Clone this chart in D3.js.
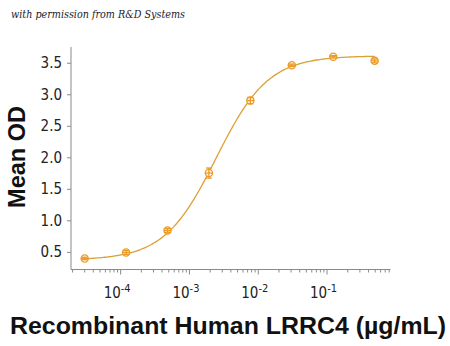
<!DOCTYPE html>
<html><head><meta charset="utf-8">
<script src="https://cdn.jsdelivr.net/npm/d3@7"></script>
<style>
html,body{margin:0;padding:0;background:#fff;}
svg{display:block;}
</style></head>
<body>
<script>
// ---- data ----
const concentrations = [3.05e-5, 1.22e-4, 4.88e-4, 1.95e-3, 7.81e-3, 0.03125, 0.125, 0.5];
const meanOD = [0.395, 0.49, 0.84, 1.75, 2.90, 3.46, 3.595, 3.53];
const errOD = [0.02, 0.03, 0.03, 0.08, 0.05, 0.02, 0.02, 0.03];
// 4PL fit parameters: bottom, top, EC50, hill slope
const fitParams = [0.37, 3.61, 2.49e-3, 1.15];
const yTicks = [0.5, 1.0, 1.5, 2.0, 2.5, 3.0, 3.5];
const xMajorTicks = [1e-4, 1e-3, 1e-2, 1e-1];
const xMajorExp = ["-4", "-3", "-2", "-1"];

const W = 450, H = 346;
const svg = d3.select("body").append("svg").attr("width", W).attr("height", H);

const x = d3.scaleLog().domain([1.93e-5, 0.85]).range([71, 390.5]);
const y = d3.scaleLinear().domain([0.22, 3.75]).range([269.5, 47]);

const axisColor = "#8a8a8a";
const tickFont = "'Liberation Sans Narrow','DejaVu Sans Condensed','Liberation Sans',sans-serif";

// top note
svg.append("text").attr("x", 11).attr("y", 18)
  .attr("font-family", "'DejaVu Serif','Liberation Serif',serif")
  .attr("font-style", "italic").attr("font-size", 10.5)
  .attr("fill", "#1a1a2e")
  .attr("textLength", 174).attr("lengthAdjust", "spacingAndGlyphs")
  .text("with permission from R&D Systems");

// Y axis
const yAxis = d3.axisLeft(y).tickValues(yTicks).tickFormat(d3.format(".1f")).tickSize(4).tickPadding(5);
const gy = svg.append("g").attr("transform", "translate(71,0)").call(yAxis);
gy.select(".domain").attr("stroke", axisColor).attr("d", `M0,${y.range()[0]}V${y.range()[1]}`);
gy.selectAll(".tick line").attr("stroke", axisColor);
gy.selectAll(".tick text").attr("font-family", tickFont).attr("font-size", 15).attr("fill", "#222");

// X axis (minor ticks)
const minorTicks = [];
for (let e = -5; e <= 0; e++) for (let m = 1; m <= 9; m++) {
  const v = m * Math.pow(10, e);
  if (v >= x.domain()[0] && v <= x.domain()[1]) minorTicks.push(v);
}
const xAxis = d3.axisBottom(x).tickValues(minorTicks).tickFormat("").tickSize(3);
const gx = svg.append("g").attr("transform", "translate(0,269.5)").call(xAxis);
gx.select(".domain").attr("stroke", axisColor).attr("d", `M${x.range()[0]},0H${x.range()[1]}`);
gx.selectAll(".tick line").attr("stroke", axisColor)
  .attr("y2", d => xMajorTicks.some(t => Math.abs(Math.log10(t) - Math.log10(d)) < 1e-6) ? 5 : 3);

// x tick labels 10^n
const lab = svg.append("g");
xMajorTicks.forEach((t, i) => {
  const tx = lab.append("text").attr("x", x(t) - 3).attr("y", 298)
    .attr("text-anchor", "middle").attr("font-family", tickFont).attr("font-size", 15).attr("fill", "#222");
  tx.append("tspan").text("10");
  tx.append("tspan").attr("dy", -6).attr("font-size", 11).text(xMajorExp[i]);
});

// Axis titles
svg.append("text").attr("transform", "translate(25,157) rotate(-90)")
  .attr("text-anchor", "middle").attr("font-family", "'Liberation Sans',Arial,sans-serif")
  .attr("font-weight", "bold").attr("font-size", 23.5).attr("fill", "#111").text("Mean OD");
svg.append("text").attr("x", 228).attr("y", 334)
  .attr("text-anchor", "middle").attr("font-family", "'Liberation Sans',Arial,sans-serif")
  .attr("font-weight", "bold").attr("font-size", 23.5).attr("fill", "#111")
  .attr("textLength", 436).attr("lengthAdjust", "spacingAndGlyphs")
  .text("Recombinant Human LRRC4 (\u00b5g/mL)");

// fitted curve
const [A, D, C, B] = fitParams;
const f = v => D + (A - D) / (1 + Math.pow(v / C, B));
const lx0 = Math.log10(concentrations[0]), lx1 = Math.log10(concentrations[concentrations.length - 1]);
const curvePts = d3.range(0, 201).map(i => {
  const v = Math.pow(10, lx0 + (lx1 - lx0) * i / 200);
  return [x(v), y(f(v))];
});
svg.append("path").attr("d", d3.line()(curvePts)).attr("fill", "none")
  .attr("stroke", "#DCA035").attr("stroke-width", 1.3);

// points with error bars
const col = "#EC9A26";
const pts = svg.append("g");
concentrations.forEach((c, i) => {
  const px = x(c), py = y(meanOD[i]);
  const g = pts.append("g").attr("stroke", col).attr("stroke-width", 1.3).attr("fill", "none");
  g.append("circle").attr("cx", px).attr("cy", py).attr("r", 3.6).attr("fill", "rgba(255,255,255,0.85)");
  g.append("line").attr("x1", px).attr("x2", px).attr("y1", y(meanOD[i] + errOD[i])).attr("y2", y(meanOD[i] - errOD[i]));
  g.append("line").attr("x1", px - 3).attr("x2", px + 3).attr("y1", y(meanOD[i] + errOD[i])).attr("y2", y(meanOD[i] + errOD[i]));
  g.append("line").attr("x1", px - 3).attr("x2", px + 3).attr("y1", y(meanOD[i] - errOD[i])).attr("y2", y(meanOD[i] - errOD[i]));
  g.append("line").attr("x1", px - 3.5).attr("x2", px + 3.5).attr("y1", py).attr("y2", py);
});
</script>
</body></html>
